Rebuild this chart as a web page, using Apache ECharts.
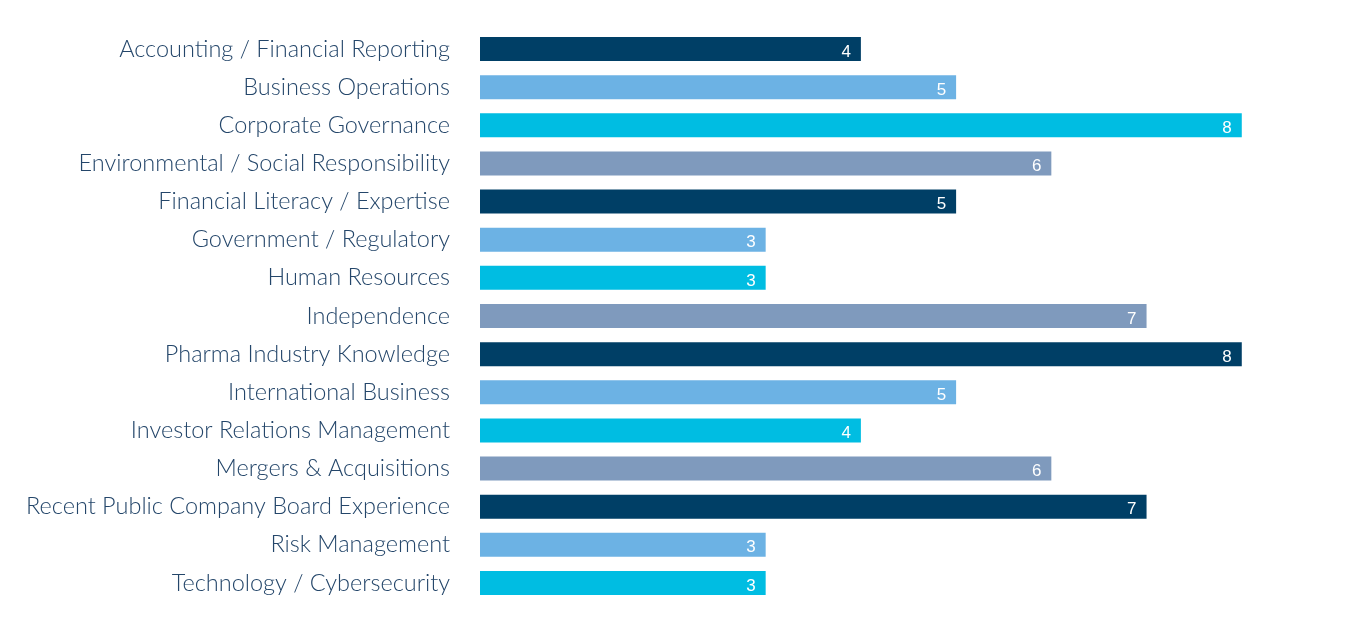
<!DOCTYPE html>
<html><head><meta charset="utf-8">
<script src="https://cdn.jsdelivr.net/npm/echarts@6/dist/echarts.min.js"></script>
<style>html,body{margin:0;padding:0;background:#fff}#c{width:1370px;height:632px}</style>
</head><body><div id="c"></div>
<script>
const categories = ["Accounting / Financial Reporting","Business Operations","Corporate Governance","Environmental / Social Responsibility","Financial Literacy / Expertise","Government / Regulatory","Human Resources","Independence","Pharma Industry Knowledge","International Business","Investor Relations Management","Mergers & Acquisitions","Recent Public Company Board Experience","Risk Management","Technology / Cybersecurity"];
const values = [4,5,8,6,5,3,3,7,8,5,4,6,7,3,3];
const palette = ["#003f66","#6cb2e4","#00bde2","#7f9abd"];
const chart = echarts.init(document.getElementById('c'));
chart.setOption({
  animation:false,
  grid:{left:480,top:30,width:857,height:572,containLabel:false},
  xAxis:{type:'value',min:0,max:9,show:false},
  yAxis:{type:'category',data:categories,inverse:true,
    axisLine:{show:false},axisTick:{show:false},splitLine:{show:false},
    axisLabel:{margin:30,fontFamily:'Lato',fontWeight:300,fontSize:23.5,color:'#24466a',padding:[3,0,0,0]}},
  series:[{type:'bar',data:values.map((v,i)=>({value:v,itemStyle:{color:palette[i%4]}})),
    barWidth:24,
    label:{show:true,position:'insideRight',distance:10,offset:[0,3],color:'#fff',fontFamily:'Liberation Sans',fontSize:17}}]
});
</script></body></html>
